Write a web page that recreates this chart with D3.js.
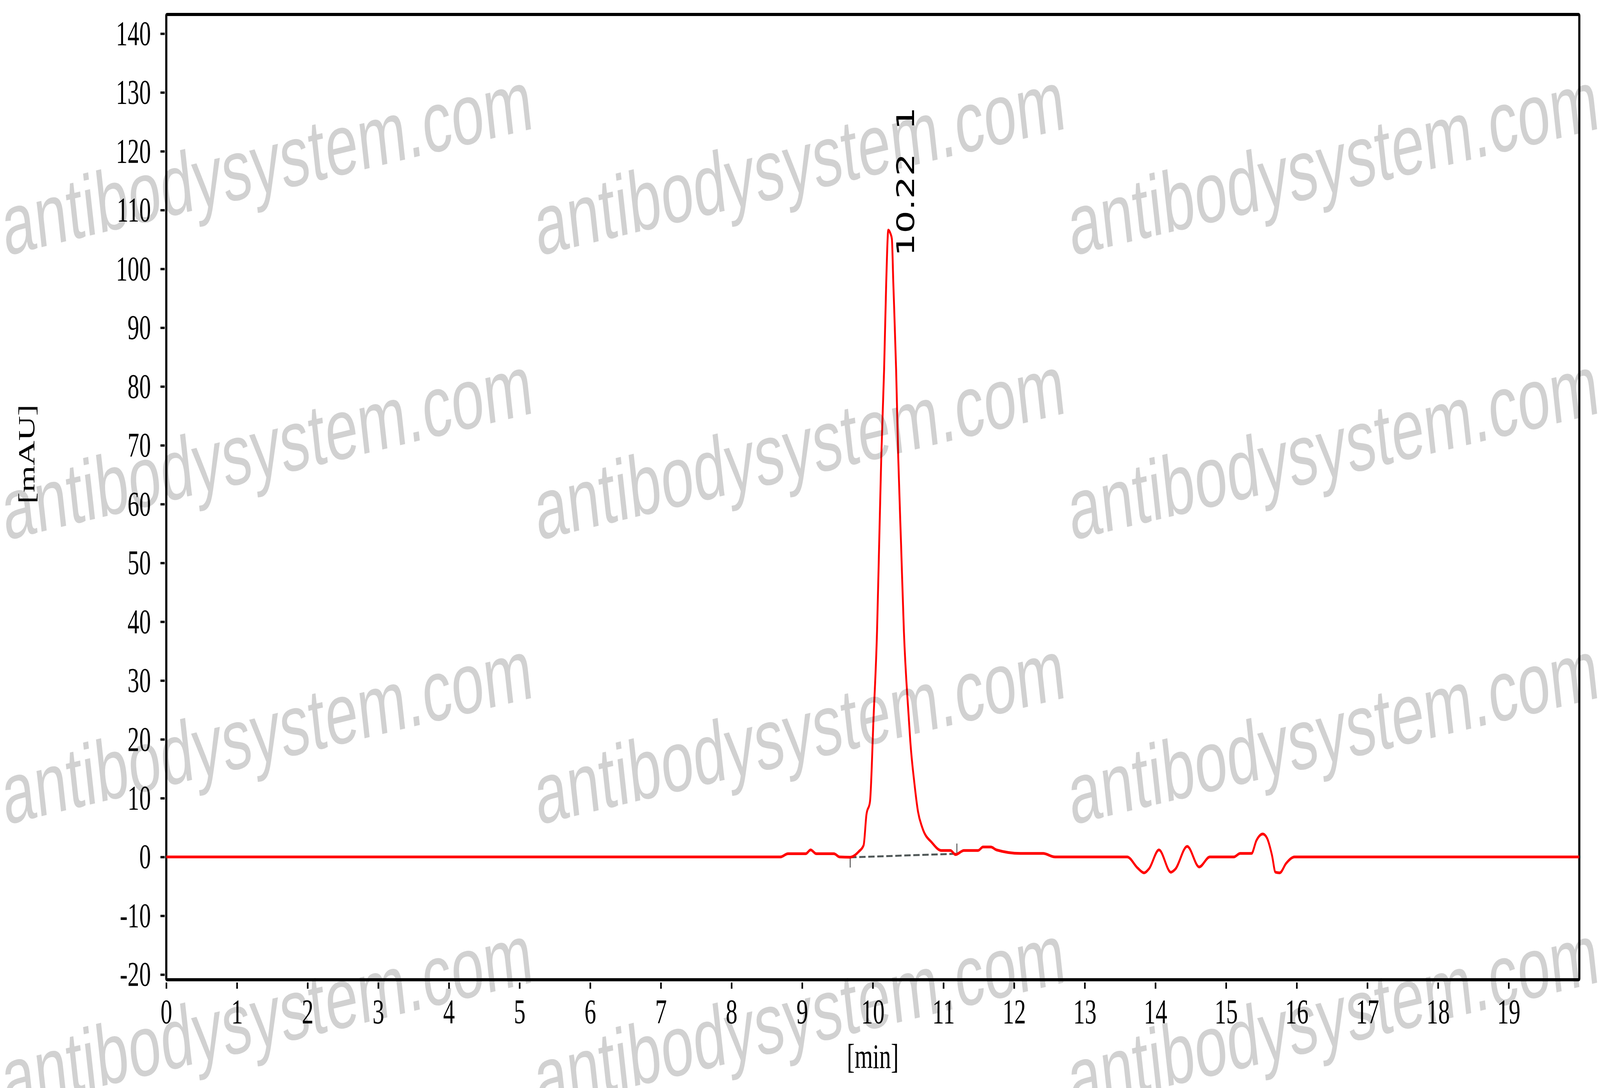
<!DOCTYPE html>
<html>
<head>
<meta charset="utf-8">
<title>Chromatogram</title>
<script src="https://d3js.org/d3.v7.min.js"></script>
<style>
  html, body { margin: 0; padding: 0; background: #fff; overflow: hidden; }
  svg { display: block; width: 100vw; height: 100vh; }
</style>
</head>
<body>
<div id="chart"></div>
<script>
// retention time (min) and absorbance (mAU)
let rt = [0, 8.69, 8.80, 9.05, 9.12, 9.20, 9.45, 9.53, 9.68, 9.72, 9.80, 9.87, 9.91, 9.96,
          10.01, 10.06, 10.09, 10.12, 10.16, 10.19, 10.22, 10.25, 10.27, 10.29, 10.33, 10.36,
          10.40, 10.44, 10.51, 10.53, 10.59, 10.64, 10.70, 10.84, 10.97, 11.10, 11.17, 11.29,
          11.49, 11.56, 11.67, 11.75, 12.09, 12.41, 12.58, 13.60, 13.75, 13.84, 13.91, 14.05,
          14.22, 14.28, 14.45, 14.62, 14.77, 15.11, 15.20, 15.36, 15.43, 15.52, 15.58, 15.65,
          15.70, 15.76, 15.85, 15.97, 20]
let mau = [0, 0, 0.55, 0.55, 1.2, 0.55, 0.55, 0, -0.05, 0.1, 0.9, 2.0, 7.2, 9.4,
           23.5, 38.4, 53.2, 68.0, 82.9, 97.7, 106.6, 106.0, 105.1, 97.7, 82.9, 68.0,
           53.2, 38.4, 23.5, 19.8, 12.4, 7.7, 5.0, 2.4, 1.1, 1.1, 0.4, 1.1,
           1.1, 1.7, 1.7, 1.2, 0.6, 0.6, 0, 0, -1.9, -2.7, -2.0, 1.2,
           -2.6, -2.1, 1.8, -1.7, 0, 0, 0.6, 0.6, 2.8, 3.9, 3.2, 0.3,
           -2.6, -2.7, -1.1, 0, 0]

// integration baseline of peak 1 (start / end)
let baseStart = [9.68, -0.07]
let baseEnd = [11.19, 0.55]
let peakRt = 10.22
let peakTime = "10.22"
let peakNo = "1"

let xTicks = d3.range(0, 20)
let yTicks = d3.range(-20, 141, 10)

let W = 6033, H = 2784
let pLeft = 627, pRight = 5955, pTop = 37, pBottom = 2507

let svg = d3.select("#chart")
    .append("svg")
        .attr("viewBox", "0 0 " + W + " " + H)
        .attr("preserveAspectRatio", "none")

svg.append("rect").attr("width", W).attr("height", H).attr("fill", "#fff")

let x = d3.scaleLinear().domain([0, 20]).range([pLeft, pRight])
let y = d3.scaleLinear().domain([-20.88, 143.26]).range([pBottom, pTop])

let data = rt.map(function(t, i) { return [t, mau[i]] })

// plain hyphen for negatives, like the original software
let fmt = function(d) { return String(d) }

// axes
let xAxis = d3.axisBottom(x).tickValues(xTicks).tickFormat(fmt)
        .tickSize(16).tickSizeOuter(0).tickPadding(26)
let yAxis = d3.axisLeft(y).tickValues(yTicks).tickFormat(fmt)
        .tickSize(16).tickSizeOuter(0).tickPadding(36)

svg.append("g")
    .attr("transform", "translate(0," + (pBottom + 7) + ")")
    .call(xAxis)
svg.append("g")
    .attr("transform", "translate(" + (pLeft - 6) + ",0)")
    .call(yAxis)

svg.selectAll(".domain").remove()
svg.selectAll(".tick line").attr("stroke", "#000").attr("stroke-width", 6)
svg.selectAll(".tick text")
    .attr("font-family", "'Liberation Serif', 'Times New Roman', serif")
    .attr("font-size", 88)
    .attr("fill", "#000")

// frame
svg.append("rect")
    .attr("x", pLeft).attr("y", pTop)
    .attr("width", pRight - pLeft).attr("height", pBottom - pTop)
    .attr("fill", "none")
    .attr("stroke", "#000")
    .attr("stroke-width", 8)
    .attr("rx", 3)

// axis titles
svg.append("text")
    .attr("x", (pLeft + pRight) / 2)
    .attr("y", 2733)
    .attr("text-anchor", "middle")
    .attr("font-family", "'Liberation Serif', 'Times New Roman', serif")
    .attr("font-size", 88)
    .text("[min]")

svg.append("text")
    .attr("transform", "translate(129,1162) rotate(-90)")
    .attr("text-anchor", "middle")
    .attr("font-family", "'Liberation Serif', 'Times New Roman', serif")
    .attr("font-size", 88)
    .text("[mAU]")

// integration baseline
svg.append("line")
    .attr("x1", x(baseStart[0])).attr("y1", y(baseStart[1]))
    .attr("x2", x(baseEnd[0])).attr("y2", y(baseEnd[1]))
    .attr("stroke", "#505858")
    .attr("stroke-width", 5)
    .attr("stroke-dasharray", "24,10")

svg.append("line")
    .attr("x1", x(baseStart[0])).attr("y1", y(baseStart[1]))
    .attr("x2", x(baseStart[0])).attr("y2", y(baseStart[1]) + 26)
    .attr("stroke", "#333").attr("stroke-width", 3)
svg.append("line")
    .attr("x1", x(baseEnd[0])).attr("y1", y(baseEnd[1]))
    .attr("x2", x(baseEnd[0])).attr("y2", y(baseEnd[1]) - 26)
    .attr("stroke", "#333").attr("stroke-width", 3)

// trace
let line = d3.line()
    .x(function(d) { return x(d[0]) })
    .y(function(d) { return y(d[1]) })
    .curve(d3.curveMonotoneX)

svg.append("path")
    .datum(data)
    .attr("d", line)
    .attr("fill", "none")
    .attr("stroke", "#ff0000")
    .attr("stroke-width", 7)
    .attr("stroke-linejoin", "round")

// peak label (rotated, reads bottom to top)
let peakVal = d3.max(mau)
let lbl = svg.append("text")
    .attr("transform", "translate(" + (x(peakRt) + 97) + "," + (y(peakVal) + 67) + ") rotate(-90)")
    .attr("font-family", "'DejaVu Sans', Verdana, sans-serif")
    .attr("font-size", 92)
lbl.append("tspan").text(peakTime)
lbl.append("tspan").attr("dx", 60).text(peakNo)

// watermark
let wmCols = [20, 2028, 4040]
let wmRows = [655, 1383, 2111, 2839]
wmRows.forEach(function(ry) {
    wmCols.forEach(function(cx) {
        svg.append("text")
            .attr("transform", "translate(" + cx + "," + ry + ") rotate(-9.3)")
            .attr("font-family", "'Liberation Sans', Arial, sans-serif")
            .attr("font-size", 222)
            .attr("fill", "#000")
            .attr("fill-opacity", 0.18)
            .text("antibodysystem.com")
    })
})
</script>
</body>
</html>
